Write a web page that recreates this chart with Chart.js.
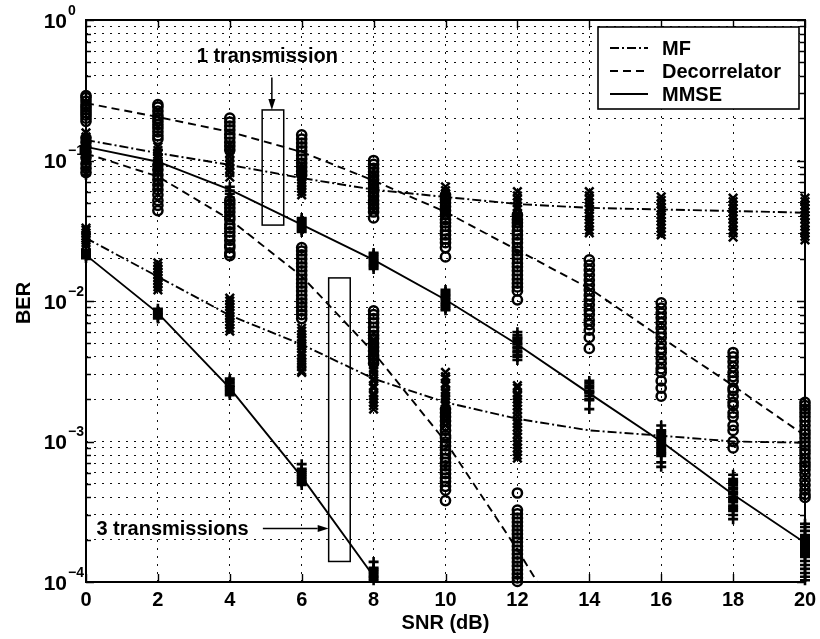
<!DOCTYPE html>
<html>
<head>
<meta charset="utf-8">
<title>BER vs SNR</title>
<script src="https://cdn.jsdelivr.net/npm/chart.js"></script>
<style>
  html, body { margin: 0; padding: 0; background: #fff; }
  #berChart { display: block; }
</style>
</head>
<body>
<canvas id="berChart" width="820" height="639"></canvas>
<script>
// SNR points (dB) used by all curves and simulation columns
const snr = [0, 2, 4, 6, 8, 10, 12, 14, 16, 18, 20];
const snrTicks = [0, 2, 4, 6, 8, 10, 12, 14, 16, 18, 20];
const berDecades = [1e-4, 1e-3, 1e-2, 1e-1, 1];
const decadeExponents = ['\u22124', '\u22123', '\u22122', '\u22121', '0'];
const minorSteps = [2, 3, 4, 5, 6, 7, 8, 9];

// Average BER curves, 1 transmission
const mf1 = [0.14, 0.113, 0.093, 0.075, 0.062, 0.055, 0.049, 0.046, 0.0448, 0.0437, 0.0425];
const dec1 = [0.256, 0.204, 0.16, 0.115, 0.072, 0.043, 0.023, 0.0123, 0.0055, 0.0025, 0.0011];
const mmse1 = [0.125, 0.098, 0.062, 0.035, 0.0196, 0.0102, 0.0049, 0.0022, 0.001, 0.00042, 0.00019];

// Average BER curves, 3 transmissions
const mf3 = [0.028, 0.0149, 0.0079, 0.0049, 0.0028, 0.0019, 0.00145, 0.0012, 0.0011, 0.001, 0.00098];
const dec3 = [0.112, 0.077, 0.038, 0.015, 0.0043, 0.001, 0.00017, 0.000025];
const mmse3 = [0.0212, 0.0082, 0.0024, 0.00056, 0.00011, 0.000017];

// Per-run BER, one inner list per SNR point (1 transmission)
const mf1Runs = [
  [0.157, 0.147, 0.14, 0.131, 0.125, 0.118, 0.111, 0.106, 0.1],
  [0.125, 0.118, 0.111, 0.105, 0.099, 0.093, 0.086],
  [0.129, 0.121, 0.113, 0.106, 0.099, 0.093, 0.087, 0.082, 0.076],
  [0.093, 0.088, 0.084, 0.08, 0.076, 0.073, 0.069, 0.066, 0.063, 0.06, 0.057],
  [0.079, 0.074, 0.069, 0.065, 0.061, 0.057, 0.053, 0.05, 0.047, 0.044],
  [0.065, 0.061, 0.058, 0.0545, 0.0515, 0.0486, 0.046, 0.0434, 0.041],
  [0.06, 0.056, 0.053, 0.05, 0.047, 0.045, 0.042, 0.04, 0.038, 0.036],
  [0.06, 0.056, 0.053, 0.05, 0.047, 0.045, 0.042, 0.04, 0.038, 0.036, 0.034, 0.032, 0.0305],
  [0.055, 0.052, 0.049, 0.046, 0.044, 0.041, 0.039, 0.037, 0.035, 0.033, 0.031, 0.0295],
  [0.054, 0.051, 0.048, 0.0455, 0.043, 0.0406, 0.0384, 0.036, 0.034, 0.032, 0.0305, 0.0285],
  [0.054, 0.051, 0.048, 0.0455, 0.043, 0.0406, 0.0384, 0.036, 0.034, 0.032, 0.0305, 0.0288, 0.0272]
];
const dec1Runs = [
  [0.29, 0.28, 0.265, 0.25, 0.24, 0.23, 0.22, 0.21, 0.2, 0.19],
  [0.25, 0.24, 0.225, 0.21, 0.2, 0.19, 0.18, 0.17, 0.16, 0.15, 0.142],
  [0.2, 0.188, 0.176, 0.165, 0.154, 0.145, 0.135, 0.127, 0.119],
  [0.152, 0.142, 0.133, 0.125, 0.117, 0.109, 0.1025, 0.096, 0.09, 0.084, 0.079],
  [0.1, 0.094, 0.088, 0.083, 0.078, 0.073, 0.068, 0.064, 0.06, 0.056, 0.052, 0.049, 0.046, 0.043, 0.039],
  [0.057, 0.053, 0.05, 0.047, 0.044, 0.041, 0.038, 0.036, 0.034, 0.0315, 0.0295, 0.0276, 0.026, 0.024, 0.0206],
  [0.041, 0.038, 0.036, 0.034, 0.0315, 0.0295, 0.0276, 0.026, 0.024, 0.0227, 0.0213, 0.02, 0.0186, 0.0175, 0.0164, 0.0153, 0.0143, 0.0134, 0.0126, 0.0118, 0.0102],
  [0.0196, 0.018, 0.0166, 0.0153, 0.0141, 0.013, 0.012, 0.011, 0.0102, 0.0094, 0.0086, 0.008, 0.0073, 0.0068, 0.0062, 0.0055, 0.0046],
  [0.0097, 0.0089, 0.0082, 0.0076, 0.007, 0.0064, 0.0059, 0.0055, 0.005, 0.0046, 0.0043, 0.0039, 0.0036, 0.0033, 0.0031, 0.0027, 0.0024, 0.0021],
  [0.0043, 0.004, 0.0037, 0.0034, 0.0031, 0.0029, 0.0027, 0.0024, 0.0023, 0.0021, 0.0019, 0.0018, 0.0016, 0.0015, 0.0013, 0.0012, 0.001, 0.0009],
  [0.0019, 0.0018, 0.0017, 0.0016, 0.0015, 0.0014, 0.0013, 0.0012, 0.00113, 0.00106, 0.00099, 0.00093, 0.00087, 0.00082, 0.00076, 0.00071, 0.00067, 0.00063, 0.00058, 0.00053, 0.00049, 0.00045, 0.00042, 0.0004]
];
const mmse1Runs = [
  [0.14, 0.13, 0.12, 0.112, 0.104, 0.097, 0.09, 0.085, 0.079],
  [0.119, 0.11, 0.101, 0.093, 0.086, 0.079, 0.073, 0.067, 0.062],
  [0.065, 0.061, 0.058, 0.0545, 0.0515, 0.0486, 0.046, 0.0434, 0.041],
  [0.039, 0.0377, 0.0365, 0.0353, 0.0342, 0.0331, 0.032, 0.031],
  [0.022, 0.0213, 0.0206, 0.0199, 0.0193, 0.0186, 0.018, 0.0175, 0.0169],
  [0.012, 0.0116, 0.0112, 0.0109, 0.0105, 0.0102, 0.0098, 0.0095, 0.0092, 0.0089, 0.0086],
  [0.006, 0.0057, 0.0055, 0.0054, 0.0052, 0.005, 0.0049, 0.0047, 0.0046, 0.0044, 0.0043, 0.0041, 0.004, 0.0038],
  [0.0027, 0.0026, 0.0025, 0.0024, 0.0023, 0.00225, 0.0022, 0.0021, 0.002, 0.00197, 0.0017],
  [0.0013, 0.0012, 0.00117, 0.00113, 0.00109, 0.00106, 0.00103, 0.00099, 0.00096, 0.00093, 0.0009, 0.00087, 0.00084, 0.00082, 0.00079, 0.00071, 0.00066],
  [0.00058, 0.00054, 0.00052, 0.00051, 0.00049, 0.00047, 0.00046, 0.00044, 0.00043, 0.00042, 0.0004, 0.00039, 0.00038, 0.00037, 0.00035, 0.00034, 0.00033, 0.00032, 0.0003, 0.00028],
  [0.00026, 0.000246, 0.000231, 0.000216, 0.000209, 0.000202, 0.000196, 0.000189, 0.000183, 0.000177, 0.000172, 0.000166, 0.000161, 0.000156, 0.000151, 0.000141, 0.000132, 0.000124, 0.000116, 0.000109, 0.000103]
];

// Per-run BER, 3 transmissions (simulated only up to 12 dB)
const mf3Runs = [
  [0.033, 0.032, 0.0305, 0.029, 0.028, 0.027, 0.026, 0.025],
  [0.0187, 0.0177, 0.0169, 0.0161, 0.0153, 0.0146, 0.0139, 0.0132, 0.0126, 0.012],
  [0.0105, 0.01, 0.0095, 0.0091, 0.0086, 0.0082, 0.0078, 0.0075, 0.0071, 0.0068, 0.0064, 0.0061],
  [0.0064, 0.0061, 0.0058, 0.0055, 0.0053, 0.005, 0.0048, 0.0046, 0.0043, 0.0041, 0.0039, 0.0037, 0.0036, 0.0034, 0.0032, 0.0031],
  [0.0053, 0.005, 0.0047, 0.0044, 0.0042, 0.004, 0.0037, 0.0035, 0.0033, 0.0032, 0.003, 0.0028, 0.0027, 0.0025, 0.0024, 0.0022, 0.0021, 0.002, 0.0019, 0.0018, 0.0017],
  [0.0031, 0.0029, 0.0028, 0.0026, 0.0025, 0.0023, 0.0022, 0.0021, 0.002, 0.0019, 0.0018, 0.0017, 0.0016, 0.0015, 0.0014, 0.0013],
  [0.0025, 0.0024, 0.0022, 0.0021, 0.002, 0.0019, 0.0018, 0.0017, 0.0016, 0.0015, 0.0014, 0.00134, 0.00127, 0.0012, 0.00113, 0.00107, 0.001, 0.00095, 0.0009, 0.00085, 0.0008, 0.00076]
];
const dec3Runs = [
  [0.145, 0.135, 0.125, 0.115, 0.105, 0.095, 0.088, 0.082],
  [0.093, 0.086, 0.079, 0.073, 0.067, 0.062, 0.057, 0.052, 0.048, 0.044],
  [0.052, 0.049, 0.046, 0.043, 0.04, 0.038, 0.035, 0.033, 0.031, 0.029, 0.027, 0.025, 0.024, 0.022, 0.021],
  [0.024, 0.0227, 0.0213, 0.0199, 0.0186, 0.0175, 0.0164, 0.0153, 0.0143, 0.0134, 0.0126, 0.0118, 0.011, 0.0103, 0.0097, 0.0091, 0.0085, 0.008, 0.0075],
  [0.0085, 0.008, 0.0075, 0.007, 0.0065, 0.0061, 0.0057, 0.0054, 0.005, 0.0047, 0.0044, 0.0041, 0.0039, 0.0036],
  [0.0017, 0.0016, 0.0015, 0.0014, 0.0013, 0.0012, 0.0011, 0.00106, 0.00099, 0.00093, 0.00087, 0.00082, 0.00076, 0.00071, 0.00067, 0.00063, 0.00059, 0.00055, 0.00052, 0.00048, 0.00045, 0.00038],
  [0.00043, 0.000325, 0.000305, 0.000285, 0.000267, 0.00025, 0.000234, 0.00022, 0.000206, 0.000193, 0.00018, 0.000169, 0.000158, 0.000148, 0.000139, 0.00013, 0.000122, 0.000114, 0.000107, 0.000101]
];
const mmse3Runs = [
  [0.023, 0.0223, 0.0216, 0.0209, 0.0202],
  [0.0088, 0.0085, 0.0082, 0.008, 0.0077, 0.0075],
  [0.0028, 0.0027, 0.0026, 0.0025, 0.00244, 0.00236, 0.00229, 0.00221, 0.00214],
  [0.00069, 0.00064, 0.00062, 0.0006, 0.00058, 0.00056, 0.00054, 0.00052, 0.00051, 0.00049],
  [0.000139, 0.000126, 0.000122, 0.000118, 0.000114, 0.00011, 0.000107, 0.000103]
];

// Line styles shared by the curves and the legend
const dashMF = [9, 3, 2, 3];
const dashDec = [8, 5];
const dashMMSE = [];
const legendItems = [
  { label: 'MF', dash: dashMF },
  { label: 'Decorrelator', dash: dashDec },
  { label: 'MMSE', dash: dashMMSE }
];

// Callouts, placed in data units
const callouts = [
  { text: '1 transmission', x: 3.08, y: 0.55 },
  { text: '3 transmissions', x: 0.29, y: 0.000235 }
];
const calloutBoxes = [
  { x0: 4.9, x1: 5.5, y0: 0.229, y1: 0.0347 },
  { x0: 6.75, x1: 7.35, y0: 0.0146, y1: 0.00014 }
];
const calloutArrows = [
  { x0: 5.17, y0: 0.39, x1: 5.17, y1: 0.229 },
  { x0: 4.92, y0: 0.00024, x1: 6.75, y1: 0.00024 }
];

const FONT = '"Liberation Sans", Arial, Helvetica, sans-serif';

function curve(values, dash) {
  return {
    data: values.map((v, i) => ({ x: snr[i], y: v })),
    showLine: true,
    borderColor: '#000',
    borderWidth: 1.9,
    borderDash: dash,
    pointRadius: 0,
    fill: false,
    tension: 0,
    clip: 0
  };
}

function runs(columns, style, radius, width) {
  const points = [];
  columns.forEach((col, i) => {
    col.forEach(v => points.push({ x: snr[i], y: v }));
  });
  return {
    data: points,
    showLine: false,
    pointStyle: style,
    pointRadius: radius,
    pointBorderWidth: width,
    pointBorderColor: '#000',
    pointBackgroundColor: 'rgba(0,0,0,0)',
    clip: 12
  };
}

// Frame, inward ticks, tick labels, axis titles, legend and callouts
const decorations = {
  id: 'decorations',
  afterDraw(chart) {
    const { ctx, chartArea: area, scales: { x, y } } = chart;
    ctx.save();
    ctx.strokeStyle = '#000';
    ctx.fillStyle = '#000';
    ctx.setLineDash([]);

    ctx.lineWidth = 1.4;
    ctx.beginPath();
    snrTicks.forEach(v => {
      const px = Math.round(x.getPixelForValue(v)) + 0.5;
      ctx.moveTo(px, area.bottom); ctx.lineTo(px, area.bottom - 8);
      ctx.moveTo(px, area.top); ctx.lineTo(px, area.top + 8);
    });
    y.ticks.forEach(t => {
      const py = Math.round(y.getPixelForValue(t.value)) + 0.5;
      const len = t.major ? 8 : 5;
      ctx.moveTo(area.left, py); ctx.lineTo(area.left + len, py);
      ctx.moveTo(area.right, py); ctx.lineTo(area.right - len, py);
    });
    ctx.stroke();

    ctx.lineWidth = 2;
    ctx.strokeRect(area.left, area.top, area.right - area.left, area.bottom - area.top);

    // tick labels
    ctx.font = 'bold 20px ' + FONT;
    ctx.textAlign = 'center';
    ctx.textBaseline = 'middle';
    snrTicks.forEach(v => ctx.fillText(String(v), x.getPixelForValue(v), area.bottom + 18));

    berDecades.forEach((d, i) => {
      const py = y.getPixelForValue(d);
      ctx.font = 'bold 21px ' + FONT;
      ctx.textAlign = 'right';
      ctx.fillText('10', area.left - 19, py + 2);
      ctx.font = 'bold 14px ' + FONT;
      ctx.textAlign = 'left';
      ctx.fillText(decadeExponents[i], area.left - 18, py - 9);
    });

    // axis titles
    ctx.font = 'bold 20px ' + FONT;
    ctx.textAlign = 'center';
    ctx.fillText('SNR (dB)', (area.left + area.right) / 2, area.bottom + 41);
    ctx.save();
    ctx.translate(24, (area.top + area.bottom) / 2 + 2);
    ctx.rotate(-Math.PI / 2);
    ctx.fillText('BER', 0, 0);
    ctx.restore();

    // callout boxes and arrows
    ctx.lineWidth = 1.5;
    calloutBoxes.forEach(b => {
      const x0 = x.getPixelForValue(b.x0), x1 = x.getPixelForValue(b.x1);
      const y0 = y.getPixelForValue(b.y0), y1 = y.getPixelForValue(b.y1);
      ctx.strokeRect(x0, y0, x1 - x0, y1 - y0);
    });
    calloutArrows.forEach(a => {
      const x0 = x.getPixelForValue(a.x0), y0 = y.getPixelForValue(a.y0);
      const x1 = x.getPixelForValue(a.x1), y1 = y.getPixelForValue(a.y1);
      const ang = Math.atan2(y1 - y0, x1 - x0);
      const head = 11, half = 3.5;
      ctx.beginPath();
      ctx.moveTo(x0, y0);
      ctx.lineTo(x1 - head * Math.cos(ang), y1 - head * Math.sin(ang));
      ctx.stroke();
      ctx.beginPath();
      ctx.moveTo(x1, y1);
      ctx.lineTo(x1 - head * Math.cos(ang) - half * Math.sin(ang), y1 - head * Math.sin(ang) + half * Math.cos(ang));
      ctx.lineTo(x1 - head * Math.cos(ang) + half * Math.sin(ang), y1 - head * Math.sin(ang) - half * Math.cos(ang));
      ctx.closePath();
      ctx.fill();
    });
    ctx.font = 'bold 20px ' + FONT;
    ctx.textAlign = 'left';
    callouts.forEach(c => ctx.fillText(c.text, x.getPixelForValue(c.x), y.getPixelForValue(c.y)));

    // legend
    const lx = area.right - 207, ly = area.top + 7, lw = 201, lh = 82;
    ctx.fillStyle = '#fff';
    ctx.fillRect(lx, ly, lw, lh);
    ctx.lineWidth = 1.6;
    ctx.strokeRect(lx, ly, lw, lh);
    ctx.fillStyle = '#000';
    legendItems.forEach((item, i) => {
      const rowY = ly + 21 + i * 23;
      ctx.lineWidth = 1.9;
      ctx.setLineDash(item.dash);
      ctx.beginPath();
      ctx.moveTo(lx + 12, rowY);
      ctx.lineTo(lx + 50, rowY);
      ctx.stroke();
      ctx.setLineDash([]);
      ctx.fillText(item.label, lx + 64, rowY + 1);
    });
    ctx.restore();
  }
};

new Chart(document.getElementById('berChart'), {
  type: 'scatter',
  data: {
    datasets: [
      curve(mf1, dashMF),
      curve(dec1, dashDec),
      curve(mmse1, dashMMSE),
      curve(mf3, dashMF),
      curve(dec3, dashDec),
      curve(mmse3, dashMMSE),
      runs(mf1Runs, 'crossRot', 6, 2.5),
      runs(mmse1Runs, 'cross', 5, 2.6),
      runs(dec1Runs, 'circle', 4.6, 2.5),
      runs(mf3Runs, 'crossRot', 6, 2.5),
      runs(mmse3Runs, 'cross', 5, 2.6),
      runs(dec3Runs, 'circle', 4.6, 2.5)
    ]
  },
  options: {
    responsive: false,
    devicePixelRatio: 1,
    animation: false,
    events: [],
    layout: {
      padding: { left: 86, right: 15, top: 20, bottom: 57 }
    },
    plugins: {
      legend: { display: false },
      tooltip: { enabled: false }
    },
    scales: {
      x: {
        type: 'linear',
        min: 0,
        max: 20,
        afterBuildTicks: function(scale) {
          scale.ticks = snrTicks.map(v => ({ value: v }));
        },
        ticks: { display: false },
        grid: { color: '#111', lineWidth: 1, drawTicks: false },
        border: { display: false, dash: [2, 6] }
      },
      y: {
        type: 'logarithmic',
        min: 1e-4,
        max: 1,
        afterBuildTicks: function(scale) {
          const ticks = [];
          berDecades.forEach((d, i) => {
            ticks.push({ value: d, major: true });
            if (i < berDecades.length - 1) {
              minorSteps.forEach(m => ticks.push({ value: d * m, major: false }));
            }
          });
          scale.ticks = ticks;
        },
        ticks: { display: false },
        grid: { color: '#111', lineWidth: 1, drawTicks: false },
        border: { display: false, dash: [2, 6] }
      }
    }
  },
  plugins: [decorations]
});
</script>
</body>
</html>
